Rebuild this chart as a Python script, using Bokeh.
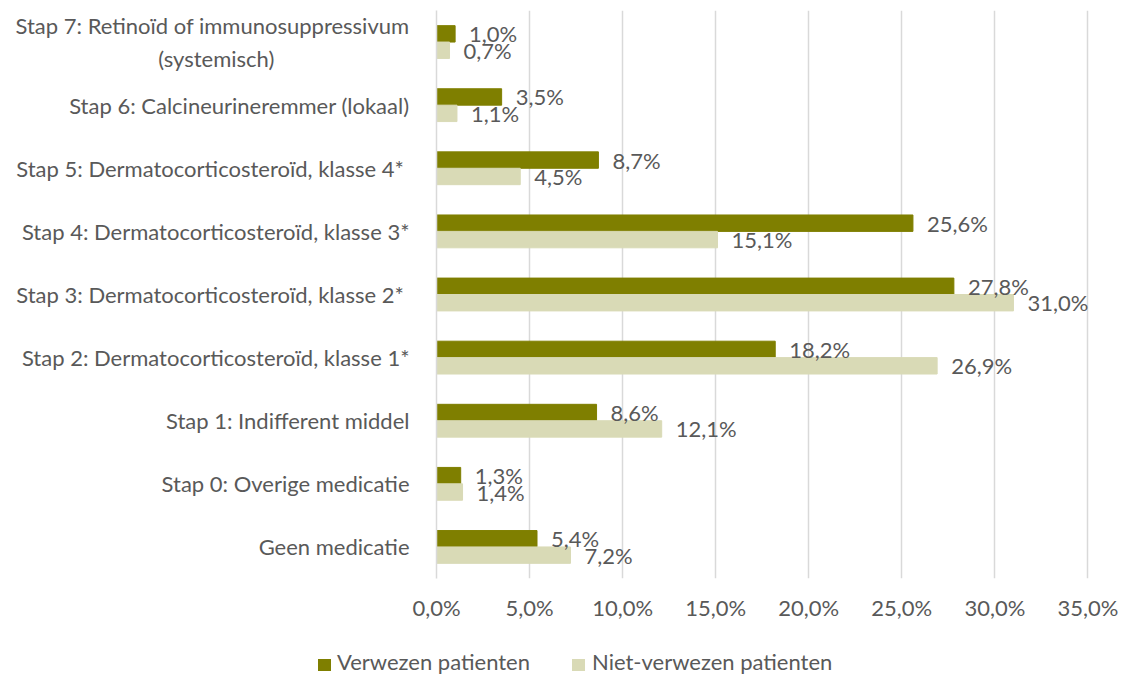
from bokeh.plotting import figure
from bokeh.layouts import column
from bokeh.models import ColumnDataSource, FixedTicker, Range1d, FactorRange, Div
from bokeh.transform import dodge
from bokeh.core.properties import value
from bokeh.embed import file_html
from bokeh.resources import INLINE

categories = [
    "Geen medicatie",
    "Stap 0: Overige medicatie",
    "Stap 1: Indifferent middel",
    "Stap 2: Dermatocorticosteroïd, klasse 1*",
    "Stap 3:  Dermatocorticosteroïd, klasse 2*",
    "Stap 4: Dermatocorticosteroïd, klasse 3*",
    "Stap 5:  Dermatocorticosteroïd, klasse 4*",
    "Stap 6: Calcineurineremmer (lokaal)",
    "Stap 7: Retinoïd of immunosuppressivum\n(systemisch)" + "\u00a0" * 24,
]
verwezen = [5.4, 1.3, 8.6, 18.2, 27.8, 25.6, 8.7, 3.5, 1.0]
niet_verwezen = [7.2, 1.4, 12.1, 26.9, 31.0, 15.1, 4.5, 1.1, 0.7]
series_names = ["Verwezen patienten", "Niet-verwezen patienten"]
x_ticks = [0, 5, 10, 15, 20, 25, 30, 35]

FONT = "Lato"
FS = "22px"
GREY = "#595959"
DARK = "#7F7F00"
LIGHT = "#D9DAB6"

def pct(v):
    return f"{v:.1f}%".replace(".", ",")

src = ColumnDataSource(dict(
    cat=categories,
    v=verwezen,
    n=niet_verwezen,
    vl=[pct(x) for x in verwezen],
    nl=[pct(x) for x in niet_verwezen],
))

p = figure(
    y_range=FactorRange(factors=categories),
    x_range=Range1d(0, 36),
    frame_width=670, frame_height=568,
    min_border_left=436, min_border_right=15, min_border_top=10, min_border_bottom=66,
    output_backend="svg", toolbar_location=None,
)
p.outline_line_color = None

p.hbar(y=dodge("cat", 0.13, range=p.y_range), right="v", left=0, height=0.26,
       source=src, fill_color=DARK, line_color=DARK)
p.hbar(y=dodge("cat", -0.13, range=p.y_range), right="n", left=0, height=0.26,
       source=src, fill_color=LIGHT, line_color=LIGHT)

p.text(x="v", y=dodge("cat", 0.13, range=p.y_range), text="vl", source=src,
       x_offset=14, text_align="left", text_baseline="middle",
       text_font=value(FONT), text_font_size=FS, text_color=GREY)
p.text(x="n", y=dodge("cat", -0.13, range=p.y_range), text="nl", source=src,
       x_offset=14, text_align="left", text_baseline="middle",
       text_font=value(FONT), text_font_size=FS, text_color=GREY)

p.xaxis.ticker = FixedTicker(ticks=x_ticks)
p.xaxis.major_label_overrides = {t: pct(t) for t in x_ticks}
p.xaxis.axis_line_color = None
p.xaxis.major_tick_line_color = None
p.xaxis.minor_tick_line_color = None
p.xaxis.major_label_standoff = 9
p.xaxis.major_label_text_font = FONT
p.xaxis.major_label_text_font_size = FS
p.xaxis.major_label_text_color = GREY

p.yaxis.axis_line_color = "#D9D9D9"
p.yaxis.axis_line_width = 1.5
p.yaxis.major_tick_line_color = None
p.yaxis.minor_tick_line_color = None
p.yaxis.major_label_standoff = 21
p.yaxis.major_label_text_font = FONT
p.yaxis.major_label_text_font_size = FS
p.yaxis.major_label_text_color = GREY

p.ygrid.grid_line_color = None
p.xgrid.grid_line_color = "#D9D9D9"
p.xgrid.grid_line_width = 1.5

# legend strip below the chart
swatch = "position:absolute;top:15px;width:13px;height:12px;"
label = "position:absolute;top:7px;line-height:22px;white-space:nowrap;"
legend_html = (
    f'<div style="position:relative;width:1121px;height:30px;'
    f'font-family:{FONT};font-size:{FS};color:{GREY};">'
    f'<span style="{swatch}left:318px;background:{DARK};"></span>'
    f'<span style="{label}left:337px;">{series_names[0]}</span>'
    f'<span style="{swatch}left:572px;background:{LIGHT};"></span>'
    f'<span style="{label}left:592px;">{series_names[1]}</span>'
    f'</div>'
)
legend_div = Div(text=legend_html, width=1121, height=30, margin=0)

layout = column(p, legend_div, spacing=0)
open("out.html", "w").write(file_html(layout, INLINE))
